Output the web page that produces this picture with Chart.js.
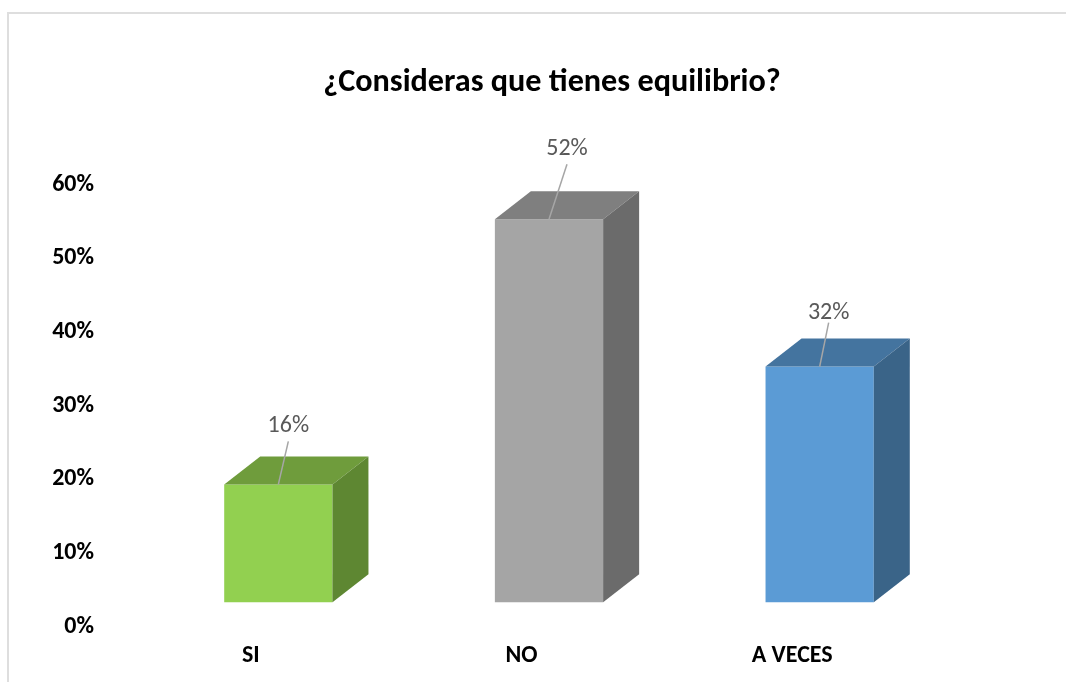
<!DOCTYPE html>
<html>
<head>
<meta charset="utf-8">
<style>
  html, body { margin: 0; padding: 0; background: #fff; overflow: hidden; }
  #wrap { position: absolute; left: 7px; top: 12px; width: 1059px; height: 670px; box-sizing: border-box;
          border-left: 2px solid #dedede; border-top: 2px solid #dedede; }
  #c { display: block; position: absolute; left: -1px; top: -1px; }
</style>
<script src="https://cdn.jsdelivr.net/npm/chart.js@4"></script>
</head>
<body>
<div id="wrap"><canvas id="c" width="1058" height="677"></canvas></div>
<script>
var categories = ['SI', 'NO', 'A VECES'];
var values = [16, 52, 32];
var tickLabels = [0, 10, 20, 30, 40, 50, 60];
var frontColors = ['#92d050', '#a5a5a5', '#5b9bd5'];
var topColors = ['#6f9c3c', '#7f7f7f', '#44749f'];
var sideColors = ['#5e8732', '#6b6b6b', '#3a6488'];

// where each hand placed label sits, relative to the middle of its bar top
var leaderDx = [10, 18, 9];
var leaderDy = [43, 55, 44];
var labelDy = [58, 70, 54];

// front faces sit above the axis zero, like the floor of a 3D chart
var floorOffset = 3.3;
var fontName = 'Carlito, "Open Sans", sans-serif';

var fakeDepth = {
    id: 'fakeDepth',
    afterDatasetsDraw: function(chart) {
        var ctx = chart.ctx;
        var dx = 36, dy = 28;
        chart.getDatasetMeta(0).data.forEach(function(bar, i) {
            var left = bar.x - bar.width / 2;
            var right = bar.x + bar.width / 2;
            var top = bar.y;
            var bottom = bar.base;

            ctx.fillStyle = topColors[i];
            ctx.beginPath();
            ctx.moveTo(left, top);
            ctx.lineTo(left + dx, top - dy);
            ctx.lineTo(right + dx, top - dy);
            ctx.lineTo(right, top);
            ctx.closePath();
            ctx.fill();

            ctx.fillStyle = sideColors[i];
            ctx.beginPath();
            ctx.moveTo(right, top);
            ctx.lineTo(right + dx, top - dy);
            ctx.lineTo(right + dx, bottom - dy);
            ctx.lineTo(right, bottom);
            ctx.closePath();
            ctx.fill();

            // leader line and value label
            ctx.strokeStyle = '#a6a6a6';
            ctx.lineWidth = 1.5;
            ctx.beginPath();
            ctx.moveTo(bar.x, top);
            ctx.lineTo(bar.x + leaderDx[i], top - leaderDy[i]);
            ctx.stroke();

            ctx.fillStyle = '#595959';
            ctx.font = '24px ' + fontName;
            ctx.textAlign = 'center';
            ctx.textBaseline = 'middle';
            ctx.fillText(values[i] + '%', bar.x + leaderDx[i], top - labelDy[i]);
        });
    }
};

new Chart(document.getElementById('c'), {
    type: 'bar',
    data: {
        labels: categories,
        datasets: [{
            data: values,
            yAxisID: 'y1',
            backgroundColor: frontColors,
            barPercentage: 0.4,
            categoryPercentage: 1
        }]
    },
    options: {
        responsive: false,
        animation: false,
        layout: { padding: { top: 0, left: 30, right: 0, bottom: 0 } },
        plugins: {
            legend: { display: false },
            tooltip: { enabled: false },
            title: {
                display: true,
                text: '¿Consideras que tienes equilibrio?',
                color: '#000',
                font: { family: fontName, size: 32.2, weight: 'bold' },
                padding: { top: 51, bottom: 82 }
            }
        },
        scales: {
            x: {
                grid: { display: false, drawTicks: false },
                border: { display: false },
                afterFit: function(axis) { axis.height = 49; },
                ticks: {
                    color: '#000',
                    padding: 15,
                    labelOffset: -27.5,
                    maxRotation: 0,
                    font: { family: fontName, size: 24, weight: 'bold' }
                }
            },
            y: {
                min: 0,
                max: 60,
                afterBuildTicks: function(axis) {
                    axis.ticks = tickLabels.map(function(v) { return { value: v }; });
                },
                afterFit: function(axis) { axis.width = 105; },
                grid: { display: false, drawTicks: false },
                border: { display: false },
                ticks: {
                    color: '#000',
                    padding: 49,
                    font: { family: fontName, size: 24, weight: 'bold' },
                    callback: function(v) { return v + '%'; }
                }
            },
            y1: {
                position: 'right',
                min: -floorOffset,
                max: 60 - floorOffset,
                afterFit: function(axis) { axis.width = 111; },
                grid: { display: false, drawTicks: false },
                border: { display: false },
                ticks: { display: false }
            }
        }
    },
    plugins: [fakeDepth]
});
</script>
</body>
</html>
